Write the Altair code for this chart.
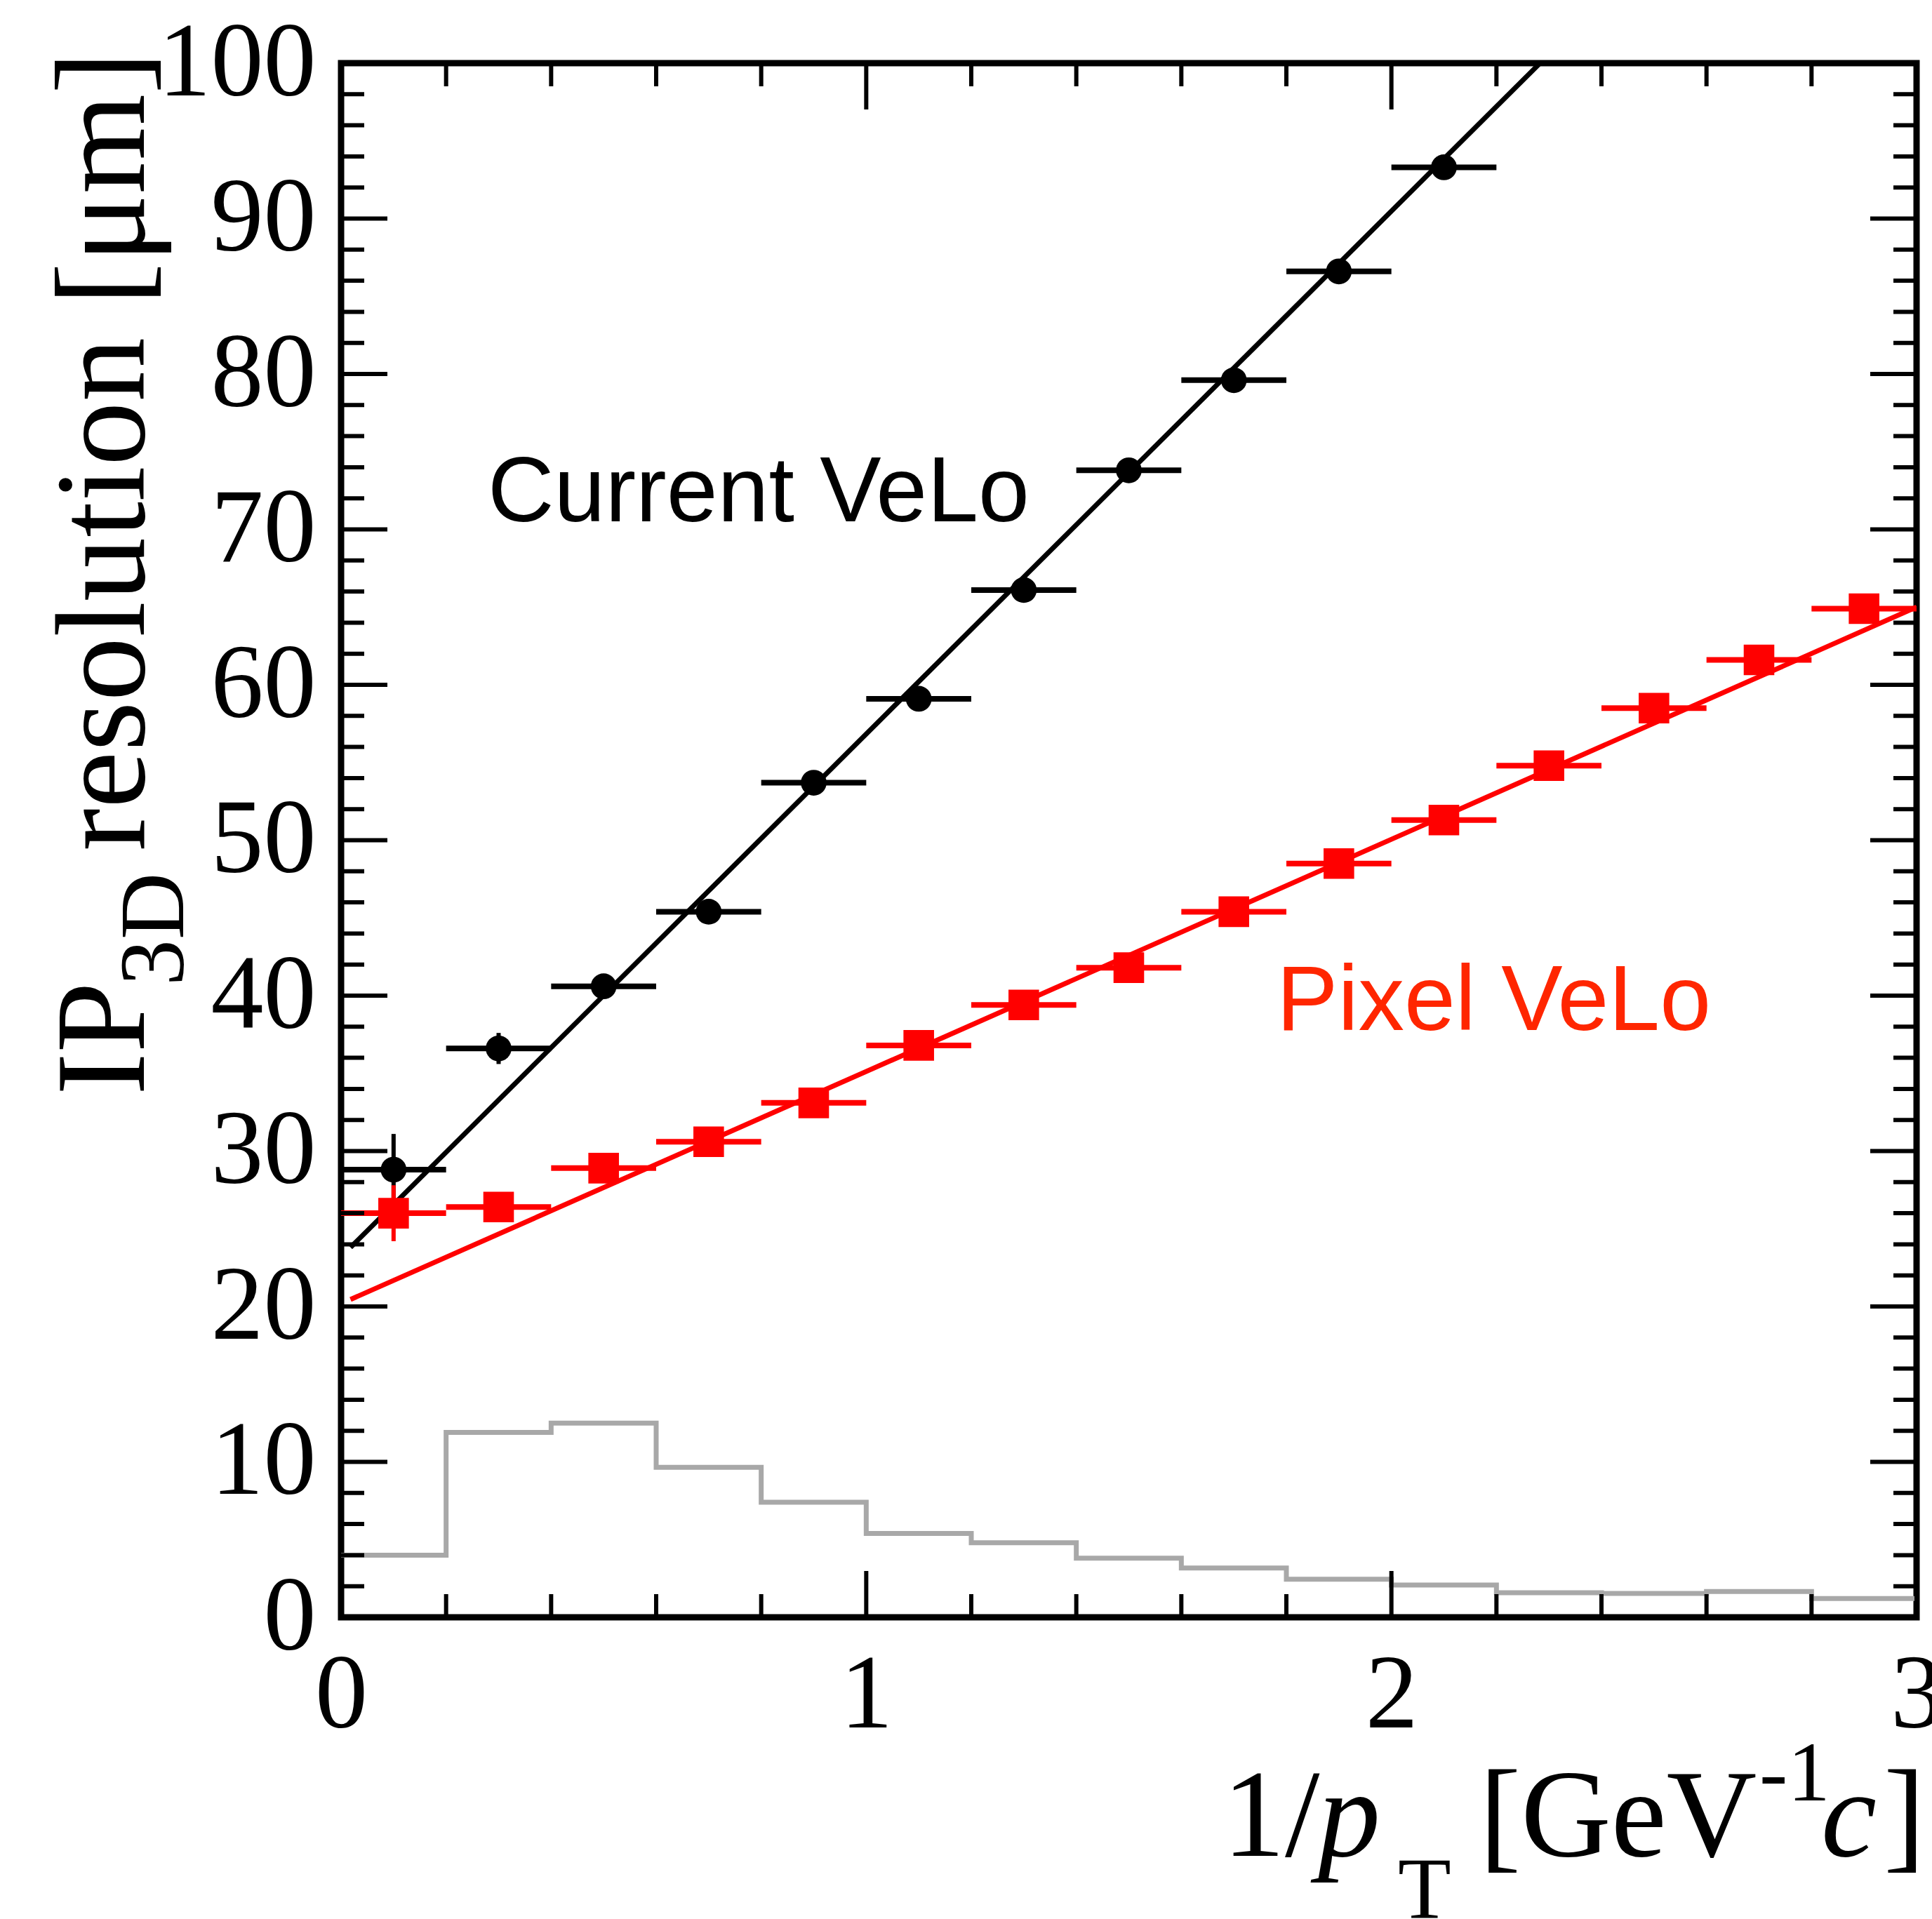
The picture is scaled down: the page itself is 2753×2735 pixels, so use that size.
import altair as alt
import pandas as pd

# ---- measured impact-parameter resolution per 1/pT bin ----
x_current = [0.1, 0.3, 0.5, 0.7, 0.9, 1.1, 1.3, 1.5, 1.7, 1.9, 2.1]
y_current = [28.8, 36.6, 40.6, 45.4, 53.7, 59.1, 66.1, 73.8, 79.6, 86.6, 93.3]
err_current = [2.3, 1.0, 0.6, 0.5, 0.5, 0.5, 0.5, 0.5, 0.5, 0.5, 0.5]

x_pixel = [0.1, 0.3, 0.5, 0.7, 0.9, 1.1, 1.3, 1.5, 1.7, 1.9, 2.1, 2.3, 2.5, 2.7, 2.9]
y_pixel = [26.0, 26.4, 28.9, 30.6, 33.1, 36.8, 39.4, 41.8, 45.4, 48.5, 51.3, 54.8, 58.5, 61.6, 64.9]
err_pixel = [1.8, 0.6, 0.5, 0.4, 0.4, 0.4, 0.4, 0.4, 0.4, 0.4, 0.4, 0.4, 0.4, 0.4, 0.4]

half_bin = 0.1

# ---- linear fits (end points) ----
fit_current_x = [0.018, 2.283]
fit_current_y = [23.8, 100.0]
fit_pixel_x = [0.018, 3.0]
fit_pixel_y = [20.45, 65.0]

# ---- 1/pT distribution of the track sample (arbitrary units) ----
hist_edges = [0.0, 0.2, 0.4, 0.6, 0.8, 1.0, 1.2, 1.4, 1.6, 1.8, 2.0, 2.2, 2.4, 2.6, 2.8, 3.0]
hist_counts = [4.0, 11.9, 12.5, 9.65, 7.4, 5.4, 4.8, 3.8, 3.17, 2.45, 2.08, 1.58, 1.54, 1.66, 1.21]

# ---- axis ticks ----
x_major = [0, 1, 2, 3]
x_minor = [0.2, 0.4, 0.6, 0.8, 1.2, 1.4, 1.6, 1.8, 2.2, 2.4, 2.6, 2.8]
y_major = [0, 10, 20, 30, 40, 50, 60, 70, 80, 90, 100]
y_minor = [v for v in range(2, 100, 2) if v % 10 != 0]

W, H = 2245, 2215
MAJOR, MINOR = 66, 33
SERIF = "Liberation Serif"
SANS = "Liberation Sans"
RED = "#ff0000"

xscale = alt.Scale(domain=[0, 3], nice=False, zero=False)
yscale = alt.Scale(domain=[0, 100], nice=False, zero=False)
xaxis = alt.Axis(values=x_major, format="d", title=None, ticks=False, tickSize=0,
                 domain=False, grid=False, labelFont=SERIF, labelFontSize=150,
                 labelColor="black", labelPadding=37, labelFlush=False,
                 labelOverlap=False, labelLimit=1000)
yaxis = alt.Axis(values=y_major, format="d", title=None, ticks=False, tickSize=0,
                 domain=False, grid=False, labelFont=SERIF, labelFontSize=150,
                 labelColor="black", labelPadding=36, labelFlush=False,
                 labelOverlap=False, labelLimit=1000)


def xq(field):
    return alt.X(f"{field}:Q", scale=xscale, axis=xaxis)


def yq(field):
    return alt.Y(f"{field}:Q", scale=yscale, axis=yaxis)


def points_frame(xs, ys, es):
    return pd.DataFrame({
        "x": xs, "y": ys,
        "xlo": [v - half_bin for v in xs], "xhi": [v + half_bin for v in xs],
        "ylo": [v - e for v, e in zip(ys, es)], "yhi": [v + e for v, e in zip(ys, es)],
    })


cur = points_frame(x_current, y_current, err_current)
pix = points_frame(x_pixel, y_pixel, err_pixel)

hist = pd.DataFrame({"x": hist_edges, "y": hist_counts + [hist_counts[-1]]})
hist_layer = alt.Chart(hist).mark_line(
    interpolate="step-after", color="#a8a8a8", strokeWidth=7
).encode(x=xq("x"), y=yq("y"))


def fit_layer(xs, ys, color):
    return alt.Chart(pd.DataFrame({"x": xs, "y": ys})).mark_line(
        color=color, strokeWidth=7, clip=True
    ).encode(x=xq("x"), y=yq("y"))


def series_layers(df, color, shape, size):
    hbar = alt.Chart(df).mark_rule(color=color, strokeWidth=8).encode(
        x=xq("xlo"), x2=alt.X2("xhi:Q"), y=yq("y"))
    vbar = alt.Chart(df).mark_rule(color=color, strokeWidth=6).encode(
        x=xq("x"), y=yq("ylo"), y2=alt.Y2("yhi:Q"))
    pts = alt.Chart(df).mark_point(
        shape=shape, filled=True, size=size, color=color, opacity=1
    ).encode(x=xq("x"), y=yq("y"))
    return [hbar, vbar, pts]


def tick_layers():
    out = []
    for vals, length in ((x_major, MAJOR), (x_minor, MINOR)):
        d = pd.DataFrame({"v": vals})
        out.append(alt.Chart(d).mark_rule(color="black", strokeWidth=6).encode(
            x=xq("v"), y=alt.value(H), y2=alt.value(H - length)))
        out.append(alt.Chart(d).mark_rule(color="black", strokeWidth=6).encode(
            x=xq("v"), y=alt.value(0), y2=alt.value(length)))
    for vals, length in ((y_major, MAJOR), (y_minor, MINOR)):
        d = pd.DataFrame({"v": vals})
        out.append(alt.Chart(d).mark_rule(color="black", strokeWidth=6).encode(
            y=yq("v"), x=alt.value(0), x2=alt.value(length)))
        out.append(alt.Chart(d).mark_rule(color="black", strokeWidth=6).encode(
            y=yq("v"), x=alt.value(W), x2=alt.value(W - length)))
    return out


def label(txt, x, y, size, font=SERIF, style="normal", color="black", angle=0):
    return alt.Chart(pd.DataFrame({"t": [txt]})).mark_text(
        x=x, y=y, fontSize=size, font=font, fontStyle=style, color=color,
        angle=angle, align="left", baseline="alphabetic"
    ).encode(text="t:N")


texts = [
    # x-axis title: 1/p_T [GeV^-1 c]
    label("1/", 1256, 2555, 178),
    label("p", 1392, 2555, 178, style="italic"),
    label("T", 1506, 2644, 124),
    label("[GeV", 1622, 2555, 178),
    label("-1", 2021, 2476, 121),
    label("c", 2109, 2555, 178, style="italic"),
    label("]", 2198, 2555, 178),
    # y-axis title: IP_3D resolution [μm]
    label("IP", -281, 1471, 182, angle=270),
    label("3D", -225, 1315, 132, angle=270),
    label("resolution [μm]", -281, 1123, 183, angle=270),
    # series annotations
    label("Current VeLo", 209, 653, 131, font=SANS),
    label("Pixel VeLo", 1333, 1378, 131, font=SANS, color="#ff2600"),
]

layers = (
    [hist_layer, fit_layer(fit_current_x, fit_current_y, "black")]
    + series_layers(cur, "black", "circle", 1350)
    + [fit_layer(fit_pixel_x, fit_pixel_y, RED)]
    + series_layers(pix, RED, "square", 1900)
    + tick_layers()
    + texts
)

chart = alt.layer(*layers).properties(
    width=W,
    height=H,
    padding={"left": 486, "top": 90, "right": 22, "bottom": 430},
    autosize=alt.AutoSizeParams(type="none"),
    background="white",
).configure_view(stroke="black", strokeWidth=9)

chart.save("out.html", embed_options={"renderer": "svg", "actions": False})
